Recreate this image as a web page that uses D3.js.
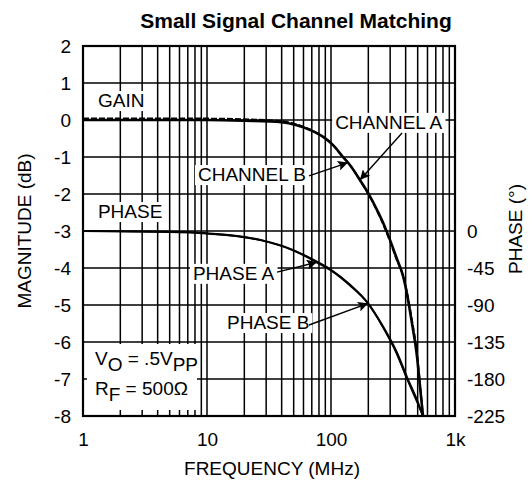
<!DOCTYPE html>
<html>
<head>
<meta charset="utf-8">
<script src="https://d3js.org/d3.v7.min.js"></script>
<style>
  body { margin: 0; background: #fff; }
  text { font-family: "Liberation Sans", Arial, sans-serif; fill: #000; }
</style>
</head>
<body>
<div id="chart"></div>
<script>
// frequency (MHz) and gain (dB) for the two channels
var gainFreq = [1, 5, 10, 20, 40, 53, 68, 86, 104, 125, 137, 148, 171, 199, 235, 272, 299, 340, 380, 410, 450, 494, 522, 552];
var gainA    = [0, 0, 0, -0.02, -0.06, -0.14, -0.27, -0.45, -0.68, -1.0, -1.15, -1.3, -1.62, -1.97, -2.43, -2.89, -3.24, -3.75, -4.2, -4.7, -5.5, -6.4, -7.2, -8.0];
var gainB    = [0.04, 0.04, 0.04, 0.02, -0.03, -0.12, -0.26, -0.45, -0.68, -1.0, -1.15, -1.3, -1.63, -1.99, -2.46, -2.93, -3.28, -3.8, -4.2, -4.65, -5.4, -6.3, -7.1, -8.0];

// frequency (MHz) and phase (degrees)
var phaseFreq = [1, 5, 10, 27, 49, 77, 98, 142, 199, 262, 340, 410, 494, 552];
var phaseA    = [0, -1, -3, -11, -23, -38, -47, -66, -88, -116, -148, -178, -206, -225];
var phaseB    = [0, -1, -3, -11, -23, -37, -46, -65, -88, -117, -150, -180, -208, -225];

var magTicks = [2, 1, 0, -1, -2, -3, -4, -5, -6, -7, -8];
var phaseTicks = [0, -45, -90, -135, -180, -225];
var freqTicks = [1, 10, 100, 1000];
var freqLabels = ["1", "10", "100", "1k"];

var W = 530, H = 480;
var pl = 83, pr = 455, pt = 46, pb = 416;
var fs = "19px";

var svg = d3.select("#chart").append("svg").attr("width", W).attr("height", H);

var x = d3.scaleLog().domain([1, 1000]).range([pl, pr]);
var y = d3.scaleLinear().domain([2, -8]).range([pt, pb]);
var yPh = d3.scaleLinear().domain([0, -225]).range([y(-3), y(-8)]);

// minor + major frequency grid values
var gridX = [];
[1, 10, 100].forEach(function (d) {
  for (var k = 1; k < 10; k++) gridX.push(d * k);
});
gridX.push(1000);

var grid = svg.append("g");
grid.selectAll("line.v").data(gridX).enter().append("line")
  .attr("x1", function (d) { return x(d); }).attr("x2", function (d) { return x(d); })
  .attr("y1", pt).attr("y2", pb)
  .attr("stroke", "#000").attr("stroke-width", 1.5);
grid.selectAll("line.h").data(magTicks).enter().append("line")
  .attr("x1", pl).attr("x2", pr)
  .attr("y1", function (d) { return y(d); }).attr("y2", function (d) { return y(d); })
  .attr("stroke", "#000").attr("stroke-width", 1.5);

svg.append("rect").attr("x", pl).attr("y", pt)
  .attr("width", pr - pl).attr("height", pb - pt)
  .attr("fill", "none").attr("stroke", "#000").attr("stroke-width", 2.2);

// axes (labels only)
var yAxis = d3.axisLeft(y).tickValues(magTicks).tickSize(0).tickPadding(12)
  .tickFormat(function (d) { return d; });
var gy = svg.append("g").attr("transform", "translate(" + pl + ",0)").call(yAxis);

var xAxis = d3.axisBottom(x).tickValues(freqTicks).tickSize(0).tickPadding(17)
  .tickFormat(function (d, i) { return freqLabels[i]; });
var gx = svg.append("g").attr("transform", "translate(0," + pb + ")").call(xAxis);

var pAxis = d3.axisRight(yPh).tickValues(phaseTicks).tickSize(0).tickPadding(12)
  .tickFormat(function (d) { return d; });
var gp = svg.append("g").attr("transform", "translate(" + pr + ",0)").call(pAxis);

[gy, gx, gp].forEach(function (g) {
  g.select(".domain").remove();
  g.selectAll("text").style("font-size", fs).attr("fill", "#000")
    .style("font-family", "'Liberation Sans', Arial, sans-serif");
});

// curves
var line = d3.line().curve(d3.curveMonotoneX);
function pts(fr, vs, ys) {
  return fr.map(function (f, i) { return [x(f), ys(vs[i])]; });
}

var curves = svg.append("g").attr("fill", "none").attr("stroke", "#000");
curves.append("path").attr("d", line(pts(phaseFreq, phaseA, yPh))).attr("stroke-width", 2.2);
curves.append("path").attr("d", line(pts(phaseFreq, phaseB, yPh))).attr("stroke-width", 1.6);
curves.append("path").attr("d", line(pts(gainFreq, gainA, y))).attr("stroke-width", 2.6);
curves.append("path").attr("d", line(pts(gainFreq, gainB, y))).attr("stroke-width", 1.8)
  .attr("stroke-dasharray", "6,2");

// labels with white boxes (anchor in data units: MHz, dB)
var labels = [
  { t: "GAIN", f: 1.32, v: 0.35 },
  { t: "PHASE", f: 1.32, v: -2.65 },
  { t: "CHANNEL A", f: 108, v: -0.24 },
  { t: "CHANNEL B", f: 8.46, v: -1.65 },
  { t: "PHASE A", f: 7.7, v: -4.32 },
  { t: "PHASE B", f: 14.5, v: -5.65 }
];

var lab = svg.append("g");
labels.forEach(function (d) {
  var g = lab.append("g");
  var bg = g.append("rect").attr("fill", "#fff");
  var t = g.append("text").attr("x", x(d.f)).attr("y", y(d.v))
    .style("font-size", fs).text(d.t);
  var b = t.node().getBBox();
  bg.attr("x", b.x - 3).attr("y", b.y + 1).attr("width", b.width + 6).attr("height", b.height - 1);
});

// arrows: start (MHz, dB) -> point on a series
svg.append("defs").append("marker").attr("id", "ah")
  .attr("viewBox", "0 0 10 10").attr("refX", 10).attr("refY", 5)
  .attr("markerWidth", 12).attr("markerHeight", 10).attr("markerUnits", "userSpaceOnUse")
  .attr("orient", "auto")
  .append("path").attr("d", "M0,0 L10,5 L0,10 L2,5 z").attr("fill", "#000");

var arrows = [
  { f0: 66.5, v0: -1.51, f1: gainFreq[10], y1: y(gainB[10]) },
  { f0: 374, v0: -0.35, f1: gainFreq[12], y1: y(gainA[12]) },
  { f0: 36.7, v0: -4.11, f1: phaseFreq[5], y1: yPh(phaseA[5]) },
  { f0: 66.5, v0: -5.54, f1: phaseFreq[8], y1: yPh(phaseB[8]) }
];
arrows.forEach(function (a) {
  svg.append("line")
    .attr("x1", x(a.f0)).attr("y1", y(a.v0))
    .attr("x2", x(a.f1)).attr("y2", a.y1)
    .attr("stroke", "#000").attr("stroke-width", 1.4)
    .attr("marker-end", "url(#ah)");
});

// conditions box
var cond = svg.append("g");
cond.append("rect").attr("x", 87).attr("y", 344).attr("width", 110).attr("height", 66).attr("fill", "#fff");
var t1 = cond.append("text").attr("x", 95).attr("y", 365).style("font-size", fs);
t1.append("tspan").text("V");
t1.append("tspan").attr("dy", 6).text("O");
t1.append("tspan").attr("dy", -6).text(" = .5V");
t1.append("tspan").attr("dy", 6).text("PP");
var t2 = cond.append("text").attr("x", 95).attr("y", 395).style("font-size", fs);
t2.append("tspan").text("R");
t2.append("tspan").attr("dy", 6).text("F");
t2.append("tspan").attr("dy", -6).text(" = 500\u03A9");

// titles
svg.append("text").attr("x", 296).attr("y", 28).attr("text-anchor", "middle")
  .style("font-size", "21px").style("font-weight", "bold")
  .text("Small Signal Channel Matching");
svg.append("text").attr("x", 272).attr("y", 475).attr("text-anchor", "middle")
  .style("font-size", fs).text("FREQUENCY (MHz)");
svg.append("text").attr("transform", "translate(31,231) rotate(-90)").attr("text-anchor", "middle")
  .style("font-size", fs).text("MAGNITUDE (dB)");
svg.append("text").attr("transform", "translate(522,229) rotate(-90)").attr("text-anchor", "middle")
  .style("font-size", fs).text("PHASE (\u00B0)");
</script>
</body>
</html>
